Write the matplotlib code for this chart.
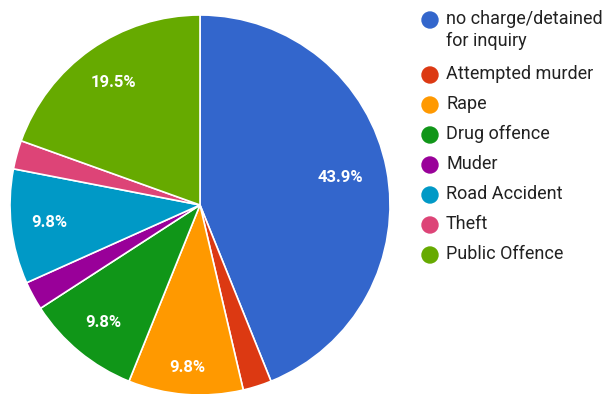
import numpy as np
import matplotlib.pyplot as plt
from matplotlib.patches import Ellipse

# survey answers (41 responses)
labels = ["no charge/detained\nfor inquiry", "Attempted murder", "Rape", "Drug offence",
          "Muder", "Road Accident", "Theft", "Public Offence"]
counts = [18, 1, 4, 4, 1, 4, 1, 8]
colors = ["#3366cc", "#dc3912", "#ff9900", "#109618",
          "#990099", "#0099c6", "#dd4477", "#66aa00"]

plt.rcParams['font.family'] = ['Roboto', 'DejaVu Sans']

W, H = 605, 394
fig = plt.figure(figsize=(W / 100, H / 100), dpi=100)

# pie centred at (200, 205) px, radius 190 px
cx, cy, r = 200, 205, 190
ax = fig.add_axes([(cx - r) / W, (H - cy - r) / H, 2 * r / W, 2 * r / H])

wedges, texts, autotexts = ax.pie(
    counts, colors=colors, startangle=90, counterclock=False,
    autopct=lambda p: f"{p:.1f}%" if p > 5 else "", pctdistance=0.8,
    wedgeprops=dict(edgecolor="white", linewidth=1.2),
    textprops=dict(color="white", fontsize=12, fontweight="bold"))

# nudge a few labels radially
dist = [0.75, 0.8, 0.86, 0.8, 0.8, 0.8, 0.8, 0.79]
for w, t, d in zip(wedges, autotexts, dist):
    ang = np.deg2rad((w.theta1 + w.theta2) / 2)
    t.set_position((d * np.cos(ang), d * np.sin(ang)))

ax.set_xlim(-1, 1)
ax.set_ylim(-1, 1)
ax.set_aspect("equal")
ax.axis("off")

# legend on the right
lx, ly = 430, 20
for i, (lab, col) in enumerate(zip(labels, colors)):
    y = ly + i * 30 + (25 if i > 0 else 0)
    fig.add_artist(Ellipse((lx / W, 1 - y / H), 16 / W, 16 / H, color=col,
                           transform=fig.transFigure))
    fig.text(446 / W, 1 - (y - 10) / H, lab, fontsize=13, color="#222222",
             va="top", ha="left", linespacing=1.3)

fig.savefig("out.png", dpi=100)
